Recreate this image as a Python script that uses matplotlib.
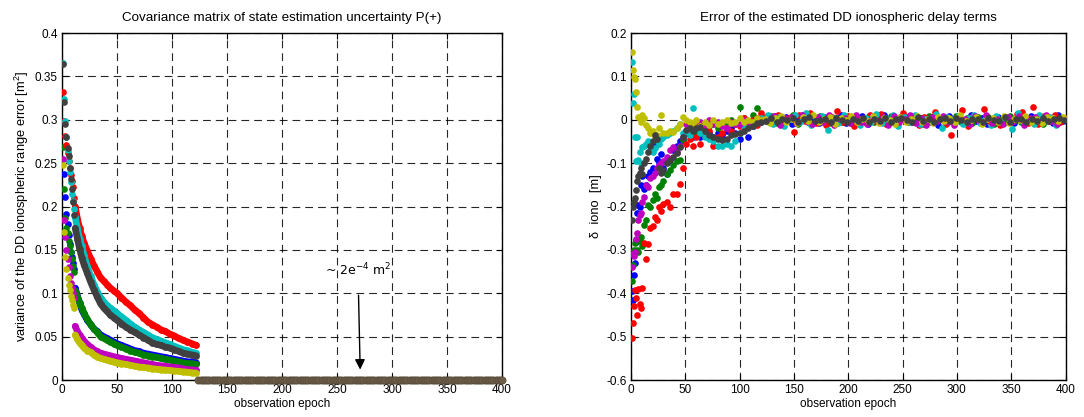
import numpy as np
import matplotlib
matplotlib.use("Agg")
import matplotlib.pyplot as plt

plt.rcParams['font.family'] = ['Liberation Sans', 'DejaVu Sans']
plt.rcParams['font.size'] = 8.5
plt.rcParams['mathtext.default'] = 'regular'
plt.rcParams['axes.unicode_minus'] = False

# MATLAB default colour order: blue, green, red, cyan, magenta, yellow, dark grey
colors = ['#0000ff', '#008000', '#ff0000', '#00bfbf', '#bf00bf', '#bfbf00', '#404040']

# ---- left panel: variance of DD iono range error [m^2] ----
var_epochs = [1, 2, 3, 4, 5, 6, 7, 8, 9, 10, 11, 12, 14, 16, 18, 20, 23, 26, 29, 32, 35, 38,
              41, 44, 47, 50, 54, 58, 62, 66, 70, 74, 78, 82, 86, 90, 94, 98, 102, 106, 110,
              114, 118, 122]
n_start = 11   # epochs 1..11 are separate dots, the filter settles from epoch 12 on

var_blue = [0.298, 0.237, 0.211, 0.191, 0.180, 0.167, 0.157, 0.148, 0.142, 0.135, 0.128, 0.106,
            0.097, 0.089, 0.081, 0.076, 0.069, 0.064, 0.059, 0.056, 0.052, 0.050, 0.048, 0.046,
            0.044, 0.042, 0.040, 0.038, 0.036, 0.034, 0.033, 0.031, 0.030, 0.029, 0.028, 0.027,
            0.026, 0.025, 0.024, 0.023, 0.022, 0.021, 0.021, 0.020]
var_green = [0.269, 0.220, 0.187, 0.175, 0.169, 0.160, 0.155, 0.148, 0.140, 0.132, 0.124, 0.103,
             0.096, 0.089, 0.083, 0.077, 0.070, 0.064, 0.059, 0.055, 0.050, 0.048, 0.046, 0.044,
             0.042, 0.040, 0.038, 0.036, 0.034, 0.032, 0.031, 0.029, 0.028, 0.027, 0.026, 0.025,
             0.024, 0.023, 0.022, 0.021, 0.020, 0.019, 0.019, 0.018]
var_red = [0.332, 0.299, 0.281, 0.271, 0.262, 0.252, 0.244, 0.236, 0.229, 0.222, 0.210, 0.200,
           0.186, 0.175, 0.166, 0.158, 0.149, 0.140, 0.132, 0.125, 0.118, 0.114, 0.110, 0.106,
           0.103, 0.100, 0.095, 0.090, 0.086, 0.081, 0.077, 0.072, 0.067, 0.064, 0.061, 0.058,
           0.056, 0.053, 0.051, 0.048, 0.046, 0.044, 0.042, 0.040]
var_cyan = [0.366, 0.324, 0.299, 0.280, 0.265, 0.253, 0.240, 0.228, 0.215, 0.206, 0.197, 0.188,
            0.175, 0.163, 0.154, 0.144, 0.131, 0.120, 0.110, 0.102, 0.095, 0.090, 0.086, 0.083,
            0.080, 0.077, 0.073, 0.069, 0.065, 0.061, 0.058, 0.055, 0.052, 0.049, 0.047, 0.045,
            0.043, 0.041, 0.039, 0.037, 0.035, 0.034, 0.032, 0.031]
var_magenta = [0.255, 0.184, 0.165, 0.150, 0.140, 0.130, 0.120, 0.112, 0.106, 0.100, 0.095, 0.062,
               0.056, 0.052, 0.048, 0.045, 0.041, 0.038, 0.035, 0.033, 0.031, 0.030, 0.029, 0.028,
               0.027, 0.026, 0.025, 0.024, 0.023, 0.022, 0.021, 0.020, 0.019, 0.018, 0.017, 0.0165,
               0.016, 0.015, 0.0145, 0.014, 0.013, 0.012, 0.0118, 0.0115]
var_yellow = [0.248, 0.171, 0.142, 0.128, 0.118, 0.110, 0.104, 0.097, 0.092, 0.087, 0.083, 0.052,
              0.047, 0.043, 0.040, 0.037, 0.034, 0.032, 0.029, 0.027, 0.025, 0.024, 0.023, 0.022,
              0.021, 0.020, 0.019, 0.018, 0.017, 0.016, 0.015, 0.0145, 0.014, 0.013, 0.0125, 0.012,
              0.0115, 0.011, 0.0105, 0.010, 0.0095, 0.009, 0.0085, 0.008]
var_grey = [0.364, 0.320, 0.295, 0.280, 0.268, 0.258, 0.245, 0.232, 0.220, 0.205, 0.190, 0.175,
            0.163, 0.151, 0.141, 0.133, 0.123, 0.113, 0.104, 0.096, 0.088, 0.083, 0.079, 0.075,
            0.072, 0.069, 0.065, 0.061, 0.058, 0.055, 0.052, 0.049, 0.046, 0.043, 0.041, 0.040,
            0.038, 0.037, 0.035, 0.033, 0.031, 0.030, 0.029, 0.028]

# after epoch 122 all variances collapse to ~2e-4 m^2
late_epochs = np.arange(124, 401, 2)
late_var = 2e-4

# ---- right panel: error of estimated DD iono delay [mm] ----
err_epochs = [1, 2, 3, 4, 5, 6, 7, 8, 9, 10, 12, 14, 16, 18, 20, 22, 24, 26, 28, 30, 33, 36, 39,
              42, 45, 48, 51, 54, 57, 60, 64, 68, 72, 76, 80, 84, 88, 92, 96, 100, 104, 108, 112,
              116, 120]
tail_epochs = np.arange(125, 401, 5)

err_blue = [-395, -415, -357, -330, -282, -216, -196, -200, -150, -130, -160, -150, -130, -120,
            -110, -60, -90, -100, -80, -110, -125, -90, -70, -60, -50, -45, -30, -35, -40, -30,
            -40, -35, -30, -40, -30, -35, -25, -20, -30, -45, -20, -40, -15, -10, -5]
err_green = [-372, -335, -300, -285, -277, -300, -305, -280, -270, -290, -243, -230, -196, -200,
             -185, -170, -180, -155, -150, -140, -125, -115, -105, -95, -93, -46, -30, -20, -25,
             -30, -20, -25, -15, -10, -20, -10, -5, 0, -10, 30, 5, -5, 10, 28, 5]
err_red = [-503, -468, -430, -392, -410, -450, -390, -425, -435, -388, -285, -320, -287, -250,
           -245, -225, -232, -200, -210, -195, -190, -200, -172, -170, -148, -110, -55, -45, -60,
           -40, -55, -35, -25, -60, -40, -30, -20, -25, -10, -15, 5, -10, 0, -12, 15]
err_cyan = [133, 38, 60, -40, -95, -40, -93, -75, -100, -62, -60, -55, -50, -70, -75, -65, -50,
            -55, -45, -40, -35, -30, -25, -20, -10, -30, -25, -35, 27, -20, -30, -40, -45, -50,
            -60, -60, -55, -60, -50, -30, -20, -10, -5, 0, 5]
err_magenta = [-340, -310, -315, -305, -275, -260, -232, -220, -215, -190, -178, -150, -155, -135,
               -130, -123, -110, -105, -100, -95, -85, -70, -63, -75, -60, -40, -10, -20, -15,
               -10, -5, -15, 0, -10, -5, -15, -20, -5, -10, -10, 0, -5, -10, 5, 0]
err_yellow = [156, 115, 98, 94, 65, 30, 6, 4, -5, 10, 4, -12, -20, -30, -25, -39, -35, -20, 11,
              -31, -30, -25, -28, -20, -10, 7, 0, -5, -10, 0, -15, -5, -12, 0, -10, -5, 0, -8, -4,
              5, -5, 0, -4, 5, 0]
err_grey = [-230, -200, -190, -180, -162, -140, -130, -123, -110, -124, -100, -90, -74, -60, -50,
            -35, -45, -110, -123, -115, -100, -93, -85, -77, -62, -40, -24, -20, -25, -18, -16,
            -25, -35, -40, -45, -47, -45, -35, -32, -30, -25, -20, -15, -8, -5]

tail_blue = [4, -6, 9, -3, 7, -10, 2, 11, -5, 3, -8, 6, 0, -4, 10, -7, 5, -2, 8, -9,
             3, -6, 12, -1, -5, 7, -3, 9, -8, 4, -2, 6, -11, 3, 8, -4, 1, -7, 10, -2,
             5, -9, 3, 7, -5, 2, -8, 6, -3, 9, -6, 4, 0, -7, 11, -3]
tail_green = [-3, 8, -7, 5, -2, 10, -9, 3, 6, -5, 9, -1, -8, 4, -4, 7, -10, 2, -3, 8,
              -6, 5, -1, 9, -7, 3, 6, -4, 2, -9, 8, -3, 5, -6, 1, 9, -5, 4, -8, 7,
              -2, 6, -10, 3, -4, 8, -1, -6, 5, -3, 7, -9, 2, 6, -5, 4]
tail_red = [8, -5, 12, -10, 5, -28, 10, -3, 15, -8, 2, -12, 6, 20, -5, 9, -15, 3, -6, 11,
            -2, 14, -9, 4, -7, 16, -4, 1, -11, 7, -6, 18, 3, -10, -35, 5, 22, -14, 9, -3,
            25, -8, 2, -12, 6, -5, 13, 18, -7, 29, -10, 8, -2, 12, -6, 5]
tail_cyan = [12, -9, 6, -14, 3, 10, -6, 15, -11, 2, 8, -24, 5, -7, 12, -3, 9, -12, 4, -5,
             14, -8, 1, 10, -15, 6, -4, 11, -9, 3, -6, 13, -20, 7, -2, 9, -10, 4, 12, -7,
             2, -13, 8, -4, 6, -22, 15, -5, 3, -9, 11, -3, 7, -12, 5, 2]
tail_magenta = [-6, 9, -11, 4, 7, -8, 12, -3, -9, 6, -5, 10, -12, 3, 5, -7, 11, -4, -10, 8,
                -2, 6, -13, 9, -5, 3, 10, -8, 4, -11, 7, -3, 9, -6, -12, 5, 2, -9, 8, -4,
                11, -7, 3, -10, 6, -2, 9, -13, 4, 7, -6, 10, -3, -9, 5, 1]
tail_yellow = [2, -7, 5, 9, -4, 1, -8, 6, -2, 10, -5, 3, 7, -9, 4, -1, 8, -6, 2, -3,
               9, -7, 5, 0, -10, 6, -4, 3, 8, -5, 1, -8, 7, -2, 4, -6, 10, -3, 0, 6,
               -9, 2, 5, -4, 8, -7, 3, -1, 9, -5, 2, -8, 6, 4, -3, 7]
tail_grey = [-3, 4, -5, 2, -1, 5, -4, 1, 6, -3, -1, 3, -6, 4, 0, -5, 3, -2, 5, -4,
             1, -3, 5, -5, 2, 4, -1, -4, 6, -2, 3, -5, 1, 4, -3, 5, -1, -6, 3, 2,
             -4, 5, -1, -3, 6, -5, 1, 3, -5, 3, -2, 4, -3, 1, 5, -1]

var_series = [var_blue, var_green, var_red, var_cyan, var_magenta, var_yellow, var_grey]
err_series = [err_blue, err_green, err_red, err_cyan, err_magenta, err_yellow, err_grey]
tail_series = [tail_blue, tail_green, tail_red, tail_cyan, tail_magenta, tail_yellow, tail_grey]

fig = plt.figure(figsize=(10.84, 4.17), dpi=100)
ax1 = fig.add_axes([0.0572, 0.0887, 0.406, 0.832])
ax2 = fig.add_axes([0.582, 0.0887, 0.401, 0.832])

ms = 4.8
for vals, c in zip(var_series, colors):
    ax1.plot(var_epochs, vals, 'o', color=c, ms=ms, mew=0, zorder=3)
    # dense per-epoch dots merge into a thick band once the filter settles
    ax1.plot(var_epochs[n_start:], vals[n_start:], '-', color=c, lw=ms, zorder=3,
             solid_capstyle='round')
ax1.plot(late_epochs, np.full(len(late_epochs), late_var), 'o', color='#6e5e48',
         mec='#54483a', mew=0.5, ms=ms + 0.4, zorder=3, clip_on=False)

ax1.annotate('~ 2e$^{-4}$ m$^{2}$', xy=(271, 0.012), xytext=(269, 0.117),
             ha='center', va='bottom', fontsize=9, family=['DejaVu Sans'],
             arrowprops=dict(arrowstyle='-|>', color='k', lw=1, mutation_scale=15,
                             shrinkA=10, shrinkB=0))

for i, (vals, tail, c) in enumerate(zip(err_series, tail_series, colors)):
    # the series share epochs; small shifts keep the dense band visually filled
    x = list(err_epochs) + list(tail_epochs + (i % 5) - 2)
    y = np.array(list(vals) + list(tail)) / 1000.0
    ax2.plot(x, y, 'o', color=c, ms=ms, mew=0, zorder=3)

ax1.set_xlim(0, 400)
ax1.set_ylim(0, 0.4)
ax1.set_xticks(np.arange(0, 401, 50))
ax1.set_yticks(np.arange(0, 0.401, 0.05))
ax1.set_yticklabels(['0', '0.05', '0.1', '0.15', '0.2', '0.25', '0.3', '0.35', '0.4'])
ax1.set_title('Covariance matrix of state estimation uncertainty P(+)', pad=9, fontsize=9.6)
ax1.set_xlabel('observation epoch', labelpad=1)
ax1.set_ylabel('variance of the DD ionospheric range error [m$^2$]', labelpad=3,
               fontsize=9.3)

ax2.set_xlim(0, 400)
ax2.set_ylim(-0.6, 0.2)
ax2.set_xticks(np.arange(0, 401, 50))
ax2.set_yticks(np.arange(-0.6, 0.201, 0.1))
ax2.set_yticklabels(['-0.6', '-0.5', '-0.4', '-0.3', '-0.2', '-0.1', '0', '0.1', '0.2'])
ax2.set_title('Error of the estimated DD ionospheric delay terms', pad=9, fontsize=9.6)
ax2.set_xlabel('observation epoch', labelpad=1)
ax2.set_ylabel('\u03b4  iono  [m]', labelpad=3, fontsize=9.3)

for ax in (ax1, ax2):
    ax.grid(True, color='k', linestyle=(0, (7, 4.5)), linewidth=0.8, alpha=0.85)
    ax.set_axisbelow(True)
    ax.tick_params(direction='in', top=True, right=True, length=4, width=0.8, pad=3)
    for s in ax.spines.values():
        s.set_linewidth(1.0)

fig.savefig('out.png', dpi=100)
